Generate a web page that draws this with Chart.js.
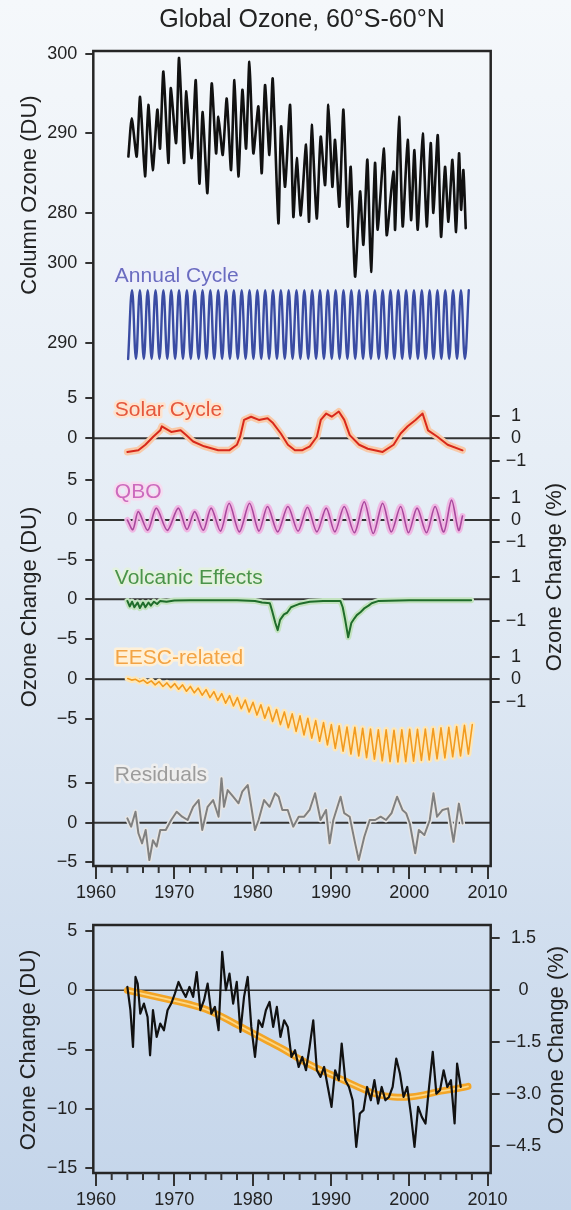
<!DOCTYPE html>
<html lang="en">
<head>
<meta charset="UTF-8">
<title>Global Ozone, 60°S-60°N</title>
<script src="https://cdn.jsdelivr.net/npm/chart.js@4"></script>
<style>
  html, body { margin: 0; padding: 0; }
  body {
    width: 571px;
    height: 1210px;
    overflow: hidden;
    position: relative;
    background: linear-gradient(to bottom, #f5f8fb 0%, #e4ecf5 45%, #c4d5ea 100%);
  }
  #components { position: absolute; left: 0; top: 0; }
  #change { position: absolute; left: 0; top: 905px; }
</style>
</head>
<body>
<canvas id="components" width="571" height="912"></canvas>
<canvas id="change" width="571" height="305"></canvas>
<script>
// ---- data (DU unless noted; x in decimal years) ----

// total column ozone, seasonal maxima / minima
const colYears = [1964.13,1964.56,1965.19,1965.62,1966.26,1966.68,1967.24,1967.83,1968.17,1968.60,
  1969.24,1969.54,1970.22,1970.60,1971.24,1971.49,1972.22,1972.73,1973.20,1973.62,
  1974.22,1974.77,1975.33,1975.62,1976.18,1976.69,1977.24,1977.67,1978.18,1978.69,
  1979.16,1979.58,1980.09,1980.73,1981.16,1981.58,1982.14,1982.56,1983.29,1983.63,
  1984.14,1984.78,1985.20,1985.63,1986.14,1986.82,1987.20,1987.54,1988.18,1988.69,
  1989.25,1989.67,1990.18,1990.52,1991.08,1991.59,1992.14,1992.52,1993.08,1993.72,
  1994.14,1994.65,1995.12,1995.63,1995.97,1996.78,1997.12,1997.97,1998.19,1998.70,
  1999.16,1999.80,2000.23,2000.66,2001.08,2001.72,2002.23,2002.74,2003.08,2003.64,
  2004.06,2004.57,2005.00,2005.51,2005.98,2006.36,2006.62,2006.91,2007.21];
const colDU = [287.1,291.9,287.1,294.6,284.6,293.6,285.4,293.0,288.1,297.8,
  286.3,295.7,288.8,299.5,286.3,295.3,286.9,296.7,283.7,292.7,
  282.5,296.3,287.5,292.1,287.3,294.4,285.4,296.7,284.6,295.5,
  288.1,299.0,287.5,293.4,285.0,296.1,287.3,296.9,278.7,290.9,
  283.3,293.6,279.5,286.9,279.7,288.6,278.9,291.1,279.3,289.6,
  283.5,293.6,283.3,289.2,280.8,293.0,278.3,285.8,272.0,282.7,
  276.0,286.7,272.6,286.3,277.9,288.1,277.2,285.2,277.9,292.1,
  278.3,289.2,279.1,287.9,277.9,290.0,278.3,288.8,280.0,289.8,
  277.0,285.8,278.9,286.7,277.6,287.5,280.4,285.4,278.1];

// annual cycle, half-year steps from annStart
const annStart = 1964.1;
const annDU = [288.0,296.6,288.0,296.6,288.0,296.6,288.0,296.6,288.0,296.6,
  288.0,296.6,288.0,296.6,288.0,296.6,288.0,296.6,288.0,296.6,
  288.0,296.6,288.0,296.6,288.0,296.6,288.0,296.6,288.0,296.6,
  288.0,296.6,288.0,296.6,288.0,296.6,288.0,296.6,288.0,296.6,
  288.0,296.6,288.0,296.6,288.0,296.6,288.0,296.6,288.0,296.6,
  288.0,296.6,288.0,296.6,288.0,296.6,288.0,296.6,288.0,296.6,
  288.0,296.6,288.0,296.6,288.0,296.6,288.0,296.6,288.0,296.6,
  288.0,296.6,288.0,296.6,288.0,296.6,288.0,296.6,288.0,296.6,
  288.0,296.6,288.0,296.6,288.0,296.6,288.0,296.6];

const solYears = [1964.0,1965.4,1966.3,1967.3,1968.2,1968.4,1969.6,1970.8,1971.5,1972.4,
  1973.8,1975.6,1977.0,1978.0,1978.4,1978.9,1979.8,1980.8,1981.9,1982.6,
  1983.6,1984.5,1985.4,1986.3,1987.3,1988.2,1988.7,1989.4,1990.1,1991.0,
  1991.7,1992.4,1993.6,1994.7,1996.6,1998.0,1998.9,1999.8,2000.8,2001.7,
  2002.4,2003.6,2004.9,2006.8];
const solDU = [-1.7,-1.5,-0.8,0.2,1.0,1.5,0.8,1.0,0.4,-0.4,
  -1.0,-1.5,-1.5,-0.8,0.2,2.3,2.7,2.3,2.5,1.9,
  0.6,-0.8,-1.5,-1.5,-1.0,0.2,2.3,3.1,2.7,3.35,
  2.3,0.4,-0.8,-1.3,-1.7,-0.8,0.6,1.5,2.3,3.1,
  1.0,0.2,-0.8,-1.5];

const qboYears = [1964.0,1964.7,1965.4,1966.6,1967.7,1969.1,1970.5,1971.6,1972.6,1973.7,
  1974.7,1975.9,1977.0,1978.3,1979.6,1980.8,1981.9,1983.2,1984.5,1985.8,
  1987.0,1988.2,1989.4,1990.5,1991.7,1993.0,1994.25,1995.4,1996.6,1997.7,
  1998.9,1999.9,2001.0,2002.2,2003.3,2004.4,2005.4,2006.3,2006.8];
const qboDU = [0.0,-1.2,1.05,-1.3,1.5,-1.3,1.5,-1.2,1.05,-1.3,
  1.5,-1.4,2.1,-1.5,2.1,-1.4,1.7,-1.5,1.7,-1.4,
  1.6,-1.5,1.5,-1.5,1.7,-1.6,2.3,-1.7,2.1,-1.5,
  1.7,-1.6,1.5,-1.6,1.7,-1.5,2.5,-1.3,0.5];

const volYears = [1964.0,1964.3,1964.6,1964.9,1965.3,1965.6,1966.0,1966.3,1966.7,1967.0,
  1967.4,1967.8,1968.2,1969.0,1970.0,1972.0,1975.0,1978.0,1980.3,1981.2,
  1982.2,1982.5,1982.9,1983.2,1983.5,1984.0,1984.4,1984.9,1985.4,1985.9,
  1987.3,1989.0,1991.2,1991.5,1991.8,1992.2,1992.6,1993.0,1993.3,1993.8,
  1994.3,1994.8,1995.2,1996.1,2000.0,2007.9];
const volDU = [-0.2,-0.9,-0.3,-1.0,-0.4,-1.1,-0.4,-1.0,-0.4,-0.8,
  -0.3,-0.6,-0.2,-0.3,-0.15,-0.1,-0.1,-0.1,-0.2,-0.4,
  -0.5,-1.5,-3.0,-3.9,-2.6,-1.9,-1.7,-1.0,-0.8,-0.6,
  -0.3,-0.2,-0.2,-1.0,-2.5,-4.8,-3.0,-2.4,-2.0,-1.6,
  -1.1,-0.8,-0.5,-0.2,-0.1,-0.1];

// EESC-related term, half-year steps from eescStart
const eescStart = 1964.05;
const eescDU = [0.1,-0.1,0.0,-0.3,-0.1,-0.5,-0.2,-0.7,-0.3,-0.9,
  -0.45,-1.05,-0.55,-1.25,-0.7,-1.5,-0.9,-1.7,-1.1,-2.0,
  -1.3,-2.3,-1.55,-2.65,-1.8,-3.0,-2.05,-3.35,-2.3,-3.7,
  -2.6,-4.1,-2.9,-4.5,-3.2,-4.9,-3.5,-5.3,-3.8,-5.7,
  -4.1,-6.1,-4.35,-6.55,-4.6,-7.0,-4.9,-7.4,-5.2,-7.8,
  -5.45,-8.25,-5.7,-8.7,-5.85,-9.05,-6.0,-9.4,-6.05,-9.65,
  -6.15,-9.85,-6.25,-10.05,-6.35,-10.25,-6.35,-10.35,-6.4,-10.4,
  -6.35,-10.35,-6.3,-10.3,-6.3,-10.2,-6.25,-10.15,-6.2,-10.0,
  -6.1,-9.9,-6.05,-9.75,-5.95,-9.65,-5.8,-9.4,-5.7];

const resYears = [1964.0,1964.48,1965.04,1965.41,1965.88,1966.34,1966.81,1967.27,1967.74,1968.2,
  1968.9,1969.6,1970.3,1971.0,1971.7,1972.4,1973.1,1973.56,1974.25,1974.95,
  1975.65,1976.02,1976.34,1976.81,1977.51,1978.2,1978.67,1979.37,1979.83,1980.3,
  1980.76,1981.46,1982.16,1982.86,1983.32,1983.79,1984.48,1985.18,1985.88,1986.58,
  1987.27,1987.97,1988.67,1989.37,1989.83,1990.3,1991.23,1991.69,1992.39,1993.09,
  1993.55,1994.25,1994.95,1995.65,1996.34,1997.04,1997.74,1998.44,1999.13,1999.6,
  2000.07,2000.76,2001.23,2001.93,2002.62,2003.09,2003.55,2004.25,2004.95,2005.65,
  2006.34,2006.81];
const resDU = [0.55,-0.5,1.38,-1.33,-2.6,-0.92,-4.7,-2.2,-3.0,-0.92,
  -0.92,0.34,1.38,0.75,0.34,2.0,2.85,-0.92,2.0,2.85,
  0.75,5.6,2.0,4.1,3.27,2.44,3.9,4.74,2.0,-0.92,
  0.34,2.85,2.0,3.7,3.27,1.6,1.6,-0.5,0.75,0.75,
  1.6,3.7,0.34,1.6,-2.6,0.34,3.27,1.2,0.75,-2.6,
  -4.7,-1.8,0.34,0.34,0.75,0.34,1.2,3.27,1.6,1.2,
  -0.1,-3.85,-0.92,-1.55,0.34,3.7,0.75,1.6,1.8,-2.4,
  2.4,-0.1];

// observed ozone change with the other terms removed
const chgYears = [1964.0,1964.39,1964.72,1965.04,1965.32,1965.65,1966.11,1966.58,1966.9,1967.27,
  1967.74,1968.2,1968.67,1969.13,1969.6,1970.07,1970.53,1971.0,1971.46,1971.93,
  1972.4,1972.86,1973.32,1973.79,1974.25,1974.72,1975.18,1975.65,1976.11,1976.58,
  1977.04,1977.51,1977.97,1978.44,1978.9,1979.37,1979.83,1980.3,1980.76,1981.23,
  1981.69,1982.16,1982.62,1983.09,1983.55,1984.02,1984.48,1984.95,1985.41,1985.88,
  1986.34,1986.81,1987.27,1987.74,1988.2,1988.67,1989.13,1989.6,1990.07,1990.53,
  1991.0,1991.37,1991.83,1992.3,1992.77,1993.23,1993.69,1994.16,1994.62,1995.09,
  1995.55,1996.02,1996.48,1996.95,1997.41,1997.88,1998.34,1998.81,1999.27,1999.74,
  2000.2,2000.67,2001.13,2001.6,2002.07,2002.53,2003.0,2003.46,2003.93,2004.39,
  2004.86,2005.32,2005.79,2006.11,2006.58];
const chgDU = [0.28,-1.68,-4.78,1.12,0.56,-1.97,-1.12,-2.25,-5.48,-1.68,
  -3.93,-2.81,-3.37,-1.68,-1.12,-0.28,0.7,0.0,-0.56,0.28,
  -0.56,1.54,-1.68,-0.84,0.56,-1.97,-1.4,-3.37,3.23,0.0,
  1.4,-1.12,0.7,-3.51,-0.56,1.12,-3.09,-5.62,-2.53,-3.09,
  -1.68,-0.98,-3.09,-1.4,-3.93,-2.53,-3.09,-5.62,-5.05,-6.46,
  -5.62,-6.74,-4.78,-2.53,-6.74,-7.3,-6.46,-8.15,-9.83,-6.74,
  -7.58,-4.5,-7.58,-8.15,-9.27,-13.2,-10.39,-10.1,-8.15,-9.27,
  -7.58,-9.55,-8.15,-9.27,-8.99,-8.15,-5.76,-7.02,-8.99,-8.15,
  -10.39,-13.2,-9.83,-10.67,-11.23,-8.15,-5.2,-8.71,-8.42,-6.74,
  -8.15,-7.58,-11.23,-6.18,-8.15];

// fitted EESC curve
const fitYears = [1964,1966,1968,1970,1972,1974,1976,1978,1980,1982,1984,1986,
  1988,1990,1992,1994,1996,1998,2000,2002,2004,2006,2007.5];
const fitDU = [0.0,-0.3,-0.6,-0.9,-1.2,-1.6,-2.2,-2.9,-3.6,-4.3,-5.0,-5.8,
  -6.5,-7.1,-7.7,-8.3,-8.8,-9.0,-9.0,-8.8,-8.5,-8.3,-8.1];

const decades = [1960, 1970, 1980, 1990, 2000, 2010];

// ---- helpers ----
const FAMILY = "'Liberation Sans', Arial, Helvetica, sans-serif";
Chart.defaults.font.family = FAMILY;
Chart.defaults.color = '#222';
Chart.defaults.animation = false;

const pts = (xs, ys) => ys.map((y, i) => ({x: xs[i], y}));
const stepped = (start, ys) => ys.map((y, i) => ({x: start + 0.5 * i, y}));
const minus = v => String(v).replace('-', '\u2212');

function line(data, axis, color, width, extra) {
  return Object.assign({
    type: 'line', data, yAxisID: axis,
    borderColor: color, borderWidth: width,
    pointRadius: 0, fill: false, tension: 0, clip: false,
    borderJoinStyle: 'round', borderCapStyle: 'round', order: 1
  }, extra || {});
}

function xAxis(height) {
  return {
    type: 'linear', position: 'bottom', min: 1959.65, max: 2010.4,
    afterBuildTicks: s => { s.ticks = decades.map(v => ({value: v})); },
    afterFit: s => { s.height = height; },
    border: {display: false},
    grid: {drawOnChartArea: false, tickLength: 13, color: '#333', lineWidth: 2},
    ticks: {padding: 3, font: {size: 18}, maxRotation: 0, autoSkip: false, callback: v => String(v)}
  };
}

function leftAxis(min, max, ticks, weight) {
  return {
    type: 'linear', position: 'left', min, max,
    stack: 'panel', stackWeight: weight,
    afterBuildTicks: s => { s.ticks = ticks.map(v => ({value: v})); },
    afterFit: s => { s.width = 60; },
    border: {display: false},
    grid: {drawOnChartArea: false, tickLength: 8, color: '#333', lineWidth: 2},
    ticks: {padding: 8, font: {size: 18}, callback: v => minus(v)}
  };
}

function rightAxis(min, max, ticks, weight, pad, fmt) {
  const shown = ticks.length > 0;
  return {
    type: 'linear', position: 'right', min, max,
    stack: 'panel', stackWeight: weight,
    afterBuildTicks: s => { if (shown) s.ticks = ticks.map(v => ({value: v})); },
    afterFit: s => { s.width = 80; },
    border: {display: false},
    grid: {display: shown, drawOnChartArea: false, tickLength: 9, color: '#333', lineWidth: 2},
    ticks: {display: shown, padding: pad, crossAlign: 'center',
            font: {size: 18}, callback: v => minus(fmt ? fmt(v) : v)}
  };
}

// frame, zero lines, minor year ticks, series names and axis titles
function decor(cfg) {
  return {
    id: 'decor',
    beforeDatasetsDraw(chart) {
      const {ctx, chartArea: a} = chart;
      ctx.save();
      ctx.strokeStyle = '#333';
      ctx.lineWidth = cfg.zeroWidth;
      cfg.zeroAxes.forEach(id => {
        const y = chart.scales[id].getPixelForValue(0);
        ctx.beginPath();
        ctx.moveTo(a.left, y);
        ctx.lineTo(a.right, y);
        ctx.stroke();
      });
      ctx.restore();
    },
    afterDatasetsDraw(chart) {
      const {ctx, chartArea: a} = chart;
      const xs = chart.scales.x;
      ctx.save();
      ctx.strokeStyle = '#262626';
      ctx.lineWidth = 2.5;
      ctx.strokeRect(a.left, a.top, a.right - a.left, a.bottom - a.top);

      ctx.strokeStyle = '#333';
      ctx.lineWidth = 2;
      for (let yr = 1962; yr < 2010; yr += 2) {
        if (yr % 10 === 0) continue;
        const px = xs.getPixelForValue(yr);
        ctx.beginPath();
        ctx.moveTo(px, a.bottom);
        ctx.lineTo(px, a.bottom + 7);
        ctx.stroke();
      }

      ctx.font = '21px ' + FAMILY;
      ctx.textAlign = 'left';
      ctx.textBaseline = 'middle';
      ctx.lineJoin = 'round';
      (cfg.names || []).forEach(n => {
        const px = xs.getPixelForValue(n.year);
        const py = chart.scales[n.axis].getPixelForValue(n.value);
        ctx.lineWidth = 5;
        ctx.strokeStyle = n.halo;
        ctx.strokeText(n.text, px, py);
        ctx.fillStyle = n.color;
        ctx.fillText(n.text, px, py);
      });

      ctx.font = '22px ' + FAMILY;
      ctx.fillStyle = '#222';
      ctx.textAlign = 'center';
      (cfg.titles || []).forEach(t => {
        ctx.save();
        ctx.translate(t.x, t.y);
        ctx.rotate(-Math.PI / 2);
        ctx.fillText(t.text, 0, 0);
        ctx.restore();
      });
      ctx.restore();
    }
  };
}

const common = {
  responsive: false,
  maintainAspectRatio: false,
  parsing: false,
  normalized: true,
  events: []
};

// ---- upper chart: column ozone and its regression components ----
const pct = 2.8; // DU per percent
new Chart(document.getElementById('components'), {
  type: 'line',
  data: {
    datasets: [
      line(pts(colYears, colDU), 'yCol', '#111111', 2.6, {tension: 0.2}),
      line(stepped(annStart, annDU), 'yAnn', '#3a4ca3', 2.4, {tension: 0.4}),
      line(pts(solYears, solDU), 'ySol', '#d8281b', 2),
      line(pts(solYears, solDU), 'ySol', '#f8caa9', 7, {order: 2}),
      line(pts(qboYears, qboDU), 'yQbo', '#a8479d', 1.6, {tension: 0.3}),
      line(pts(qboYears, qboDU), 'yQbo', '#efb8e3', 6, {order: 2, tension: 0.3}),
      line(pts(volYears, volDU), 'yVol', '#1f6d2b', 2),
      line(pts(volYears, volDU), 'yVol', '#c4e3c0', 6, {order: 2}),
      line(stepped(eescStart, eescDU), 'yEesc', '#f29b1f', 1.6),
      line(stepped(eescStart, eescDU), 'yEesc', '#fde7b9', 6, {order: 2}),
      line(pts(resYears, resDU), 'yRes', '#808080', 2),
      line(pts(resYears, resDU), 'yRes', '#e6e6e6', 5, {order: 2})
    ]
  },
  options: Object.assign({}, common, {
    layout: {padding: {left: 33.3, right: 0.3, top: 0, bottom: 0}},
    plugins: {
      legend: {display: false},
      tooltip: {enabled: false},
      title: {
        display: true, text: 'Global Ozone, 60°S-60°N', color: '#222',
        font: {size: 25, weight: 'normal'}, padding: {top: 5, bottom: 16}
      }
    },
    scales: {
      x: xAxis(46),
      // left stack: later keys sit higher
      yRes: leftAxis(-5.45, 6.63, [-5, 0, 5], 96),
      yEesc: leftAxis(-11.41, 3.94, [-5, 0], 122),
      yVol: leftAxis(-6.16, 4.22, [-5, 0], 82),
      yQbo: leftAxis(-5.79, 7.30, [-5, 0, 5], 104),
      ySol: leftAxis(-2.96, 8.54, [0, 5], 92),
      yAnn: leftAxis(286.625, 302.875, [290, 300], 130),
      yCol: leftAxis(276.60, 300.377, [280, 290, 300], 189),
      // right stack: earlier keys sit higher
      rCol: rightAxis(0, 1, [], 189, 6),
      rAnn: rightAxis(0, 1, [], 130, 6),
      rSol: rightAxis(-2.96 / pct, 8.54 / pct, [-1, 0, 1], 92, 6),
      rQbo: rightAxis(-5.79 / pct, 7.30 / pct, [-1, 0, 1], 104, 6),
      rVol: rightAxis(-6.16 / pct, 4.22 / pct, [-1, 0, 1], 82, 6),
      rEesc: rightAxis(-11.41 / pct, 3.94 / pct, [-1, 0, 1], 122, 6),
      rRes: rightAxis(0, 1, [], 96, 6)
    }
  }),
  plugins: [decor({
    zeroWidth: 2,
    zeroAxes: ['ySol', 'yQbo', 'yVol', 'yEesc', 'yRes'],
    names: [
      {text: 'Annual Cycle', axis: 'yAnn', year: 1962.4, value: 298.3, color: '#6a6cc0', halo: '#eef0fa'},
      {text: 'Solar Cycle', axis: 'ySol', year: 1962.4, value: 3.5, color: '#e5583d', halo: '#fde3cf'},
      {text: 'QBO', axis: 'yQbo', year: 1962.4, value: 3.56, color: '#cc6abd', halo: '#f6dcf0'},
      {text: 'Volcanic Effects', axis: 'yVol', year: 1962.4, value: 2.64, color: '#4b944b', halo: '#e3f1df'},
      {text: 'EESC-related', axis: 'yEesc', year: 1962.4, value: 2.64, color: '#f3a445', halo: '#fff0d6'},
      {text: 'Residuals', axis: 'yRes', year: 1962.4, value: 6.0, color: '#9c9c9c', halo: '#eeeeee'}
    ],
    titles: [
      {text: 'Column Ozone (DU)', x: 30, y: 195},
      {text: 'Ozone Change (DU)', x: 30, y: 607},
      {text: 'Ozone Change (%)', x: 555, y: 577}
    ]
  })]
});

// ---- lower chart: ozone change against the EESC fit ----
const pctLow = 2.915;
new Chart(document.getElementById('change'), {
  type: 'line',
  data: {
    datasets: [
      line(pts(chgYears, chgDU), 'y', '#111111', 2.2),
      line(pts(fitYears, fitDU), 'y', '#fcd889', 1.8, {order: 2, tension: 0.4}),
      line(pts(fitYears, fitDU), 'y', '#f3a526', 7, {order: 3, tension: 0.4})
    ]
  },
  options: Object.assign({}, common, {
    layout: {padding: {left: 33.3, right: 0.3, top: 20, bottom: 0}},
    plugins: {legend: {display: false}, tooltip: {enabled: false}},
    scales: {
      x: xAxis(37),
      y: leftAxis(-15.4, 5.5, [-15, -10, -5, 0, 5], 1),
      r: rightAxis(-15.4 / pctLow, 5.5 / pctLow, [-4.5, -3, -1.5, 0, 1.5], 1, 6,
                   v => (v === 0 ? '0' : v.toFixed(1)))
    }
  }),
  plugins: [decor({
    zeroWidth: 1.3,
    zeroAxes: ['y'],
    titles: [
      {text: 'Ozone Change (DU)', x: 29, y: 145},
      {text: 'Ozone Change (%)', x: 557, y: 135}
    ]
  })]
});
</script>
</body>
</html>
